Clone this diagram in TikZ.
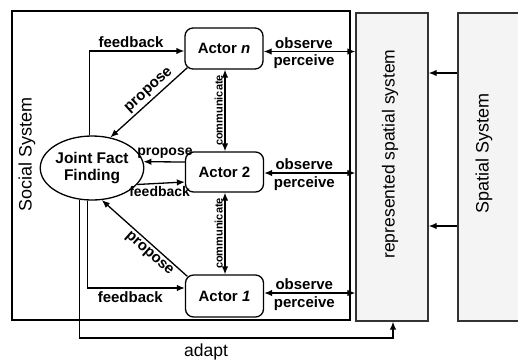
\documentclass[tikz,border=0pt]{standalone}
\usepackage{fontspec}
\setmainfont{Liberation Sans}
\usetikzlibrary{arrows.meta,shapes.geometric,calc}
\begin{document}
\begin{tikzpicture}[x=1pt,y=-1pt,
  >={Latex[length=8pt,width=6.5pt]},
  conn/.style={line width=1.3pt, draw=black},
  lbl/.style={font=\fontsize{15}{17}\selectfont\bfseries, inner sep=2.5pt},
  lblsm/.style={font=\fontsize{14}{16}\selectfont\bfseries, inner sep=2.5pt},
  small/.style={font=\fontsize{11}{12}\selectfont\bfseries, inner sep=1.5pt},
  big/.style={font=\fontsize{18}{20}\selectfont, inner sep=0pt},
  actor/.style={draw, line width=1.3pt, rounded corners=8pt, minimum width=78pt,
    minimum height=41pt, inner sep=0pt, font=\fontsize{15}{17}\selectfont\bfseries},
  sysbox/.style={draw=black!80, fill=gray!9, line width=1.3pt, inner sep=0pt}]
\useasboundingbox (0,0) rectangle (518,360);
% boxes
\draw[line width=2.5pt] (12,11) rectangle (350,320);
\node[sysbox, minimum width=72pt, minimum height=308pt] (rep) at (392,167) {};
\node[sysbox, minimum width=70pt, minimum height=308pt] (sp) at (493,167) {};
\node[big, rotate=90] (soctxt) at (27,154) {Social System};
\node[big, rotate=90, font=\fontsize{17.5}{20}\selectfont] (reptxt) at (390,154) {represented spatial system};
\node[big, rotate=90] (sptxt) at (484,153) {Spatial System};
% actors
\node[actor] (an) at (224,48.5) {Actor \textit{n}};
\node[actor, minimum height=40pt] (a2) at (224.5,172) {Actor 2};
\node[actor, minimum height=42pt] (a1) at (224.5,296) {Actor \textit{1}};
\node[draw, ellipse, line width=1.3pt, minimum width=89pt, minimum height=64pt,
  inner sep=0pt, align=center, font=\fontsize{15.5}{17}\selectfont\bfseries]
  (jff) at (92,168) {Joint Fact\\Finding};
% spatial -> represented
\draw[conn,->] ([yshift=94pt]sp.west) -- ([yshift=94pt]rep.east);
\draw[conn,->] ([yshift=-59pt]sp.west) -- ([yshift=-59pt]rep.east);
% observe / perceive
\draw[conn,<->] ([yshift=-3pt]an.east) -- ([yshift=-3pt]an.east -| rep.west)
  node[lbl, pos=0.44, above] {observe} node[lbl, pos=0.44, below] {perceive};
\draw[conn,<->] ([yshift=-1pt]a2.east) -- ([yshift=-1pt]a2.east -| rep.west)
  node[lbl, pos=0.44, above] {observe} node[lbl, pos=0.44, below] {perceive};
\draw[conn,<->] ([yshift=3pt]a1.east) -- ([yshift=3pt]a1.east -| rep.west)
  node[lbl, pos=0.44, above] {observe} node[lbl, pos=0.44, below] {perceive};
% communicate
\draw[conn,<->] ([xshift=1pt]an.south) -- ([xshift=0.5pt]a2.north)
  node[small, midway, rotate=90, above] {communicate};
\draw[conn,<->] ([xshift=0.5pt]a2.south) -- ([xshift=0.5pt]a1.north)
  node[small, midway, rotate=90, above] {communicate};
% feedback
\draw[conn,->] (jff.95.37) |- ([yshift=-2.5pt]an.west)
  node[lbl, pos=0.72, above] {feedback};
\draw[conn,->] (jff.262.85) |- ([yshift=8pt]a1.west)
  node[lbl, pos=0.72, below] {feedback};
\draw[conn,->] (jff.340.72) -- ([yshift=-10pt]a2.west)
  node[lblsm, pos=0.47, below] {feedback};
% propose
\draw[conn,->] ([yshift=10pt]a2.west) -- (jff.7.82)
  node[lblsm, pos=0.48, above] {propose};
\draw[conn,->] ([shift={(3pt,2pt)}]an.south west) -- (jff.59)
  node[lbl, pos=0.42, sloped, above] {propose};
\draw[conn,->] ([shift={(2.5pt,-2pt)}]a1.north west) -- (jff.287.4)
  node[lbl, pos=0.38, sloped, below] {propose};
% adapt
\coordinate (adc) at (393,338);
\draw[conn,->] (jff.248.72) |- (adc) -- (adc |- rep.south);
\node[big, font=\fontsize{17.5}{20}\selectfont] (adapt) at (206,352) {adapt};
\end{tikzpicture}
\end{document}
